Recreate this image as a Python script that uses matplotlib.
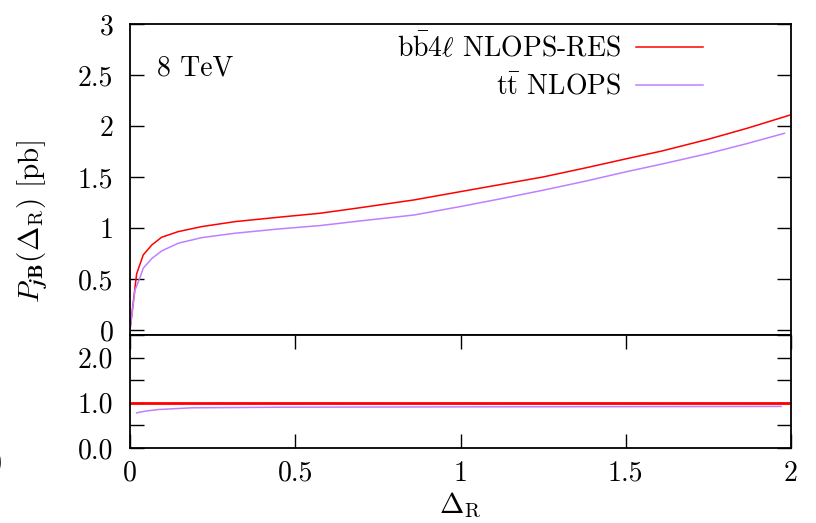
import matplotlib
matplotlib.use('Agg')
from matplotlib import pyplot as plt
from matplotlib.ticker import MultipleLocator, FixedLocator, FuncFormatter

plt.rcParams['font.family'] = 'cmr10'
plt.rcParams['mathtext.fontset'] = 'cm'
plt.rcParams['axes.formatter.use_mathtext'] = True
plt.rcParams['axes.linewidth'] = 1.3

## data
dR_bb4l = [0, 0.020, 0.040, 0.066, 0.096, 0.146, 0.217, 0.318, 0.45, 0.575, 0.70, 0.86, 1.0, 1.12, 1.25, 1.38, 1.5, 1.61, 1.75, 1.87, 2.0]
P_bb4l = [0, 0.549, 0.735, 0.833, 0.909, 0.964, 1.013, 1.062, 1.105, 1.144, 1.20, 1.275, 1.356, 1.425, 1.50, 1.59, 1.677, 1.755, 1.87, 1.98, 2.11]

dR_tt = [0, 0.015, 0.030, 0.040, 0.066, 0.096, 0.146, 0.217, 0.318, 0.45, 0.575, 0.70, 0.86, 1.0, 1.12, 1.25, 1.38, 1.5, 1.61, 1.75, 1.87, 1.98]
P_tt = [0, 0.39, 0.51, 0.605, 0.70, 0.775, 0.85, 0.905, 0.948, 0.99, 1.023, 1.07, 1.127, 1.21, 1.285, 1.37, 1.46, 1.55, 1.627, 1.73, 1.83, 1.928]

ratio_x_bb4l = [0, 2.0]
ratio_bb4l = [1.0, 1.0]
ratio_x_tt = [0.02, 0.05, 0.086, 0.186, 0.44, 1.0, 1.5, 1.97]
ratio_tt = [0.778, 0.82, 0.851, 0.889, 0.902, 0.91, 0.915, 0.92]

labels = [r'b$\bar{\rm b}$4$\ell$ NLOPS-RES', r't$\bar{\rm t}$ NLOPS']
red = '#ff0000'
purple = '#bf80ff'

fig = plt.figure(figsize=(8.16, 5.23), dpi=100)
W, H = 816., 523.
ax = fig.add_axes([130/W, 1-335/H, 661/W, 311/H])
rax = fig.add_axes([130/W, 1-448/H, 661/W, 113/H])

ax.plot(dR_bb4l, P_bb4l, color=red, lw=1.1, label=labels[0])
ax.plot(dR_tt, P_tt, color=purple, lw=1.1, label=labels[1])
ax.set_xlim(0, 2)
ax.set_ylim(-0.05, 3)
ax.yaxis.set_major_locator(MultipleLocator(0.5))
ax.yaxis.set_major_formatter(FuncFormatter(lambda v, p: '%g' % v))
ax.tick_params(axis='y', direction='in', length=10, width=1, left=True, right=True,
               labelsize=20, pad=12)
ax.tick_params(axis='x', bottom=False, top=False, labelbottom=False)

leg = ax.legend(loc='upper right', bbox_to_anchor=(703/W, 1-33/H), bbox_transform=fig.transFigure,
                frameon=False, markerfirst=False, fontsize=20, handlelength=2.4,
                handletextpad=0.55, labelspacing=0.4, borderpad=0, borderaxespad=0)
fig.text(157/W, 1-76/H, '8 TeV', fontsize=20, va='baseline')

rax.plot(ratio_x_bb4l, ratio_bb4l, color=red, lw=2.0)
rax.plot(ratio_x_tt, ratio_tt, color=purple, lw=1.1)
rax.set_xlim(0, 2)
rax.set_ylim(0, 2.5)
rax.yaxis.set_major_locator(FixedLocator([0, 1, 2]))
rax.yaxis.set_minor_locator(MultipleLocator(0.5))
rax.yaxis.set_major_formatter(FuncFormatter(lambda v, p: '%.1f' % v))
rax.xaxis.set_major_locator(MultipleLocator(0.5))
rax.xaxis.set_major_formatter(FuncFormatter(lambda v, p: '%g' % v))
rax.tick_params(which='both', direction='in', length=10, width=1, left=True, right=True,
                top=True, bottom=True, labelsize=20)
rax.tick_params(axis='y', pad=12)
rax.tick_params(axis='x', pad=9)

fig.text(33/W, 1-222/H, r'$P_{\mathbfit{j}\mathbf{B}}(\Delta_{\mathrm{R}})$ [pb]', fontsize=21,
         rotation=90, ha='center', va='center')
fig.text(460/W, 1-505/H, r'$\Delta_{\mathrm{R}}$', fontsize=21, ha='center', va='center')
# clipped label at far left edge
fig.text(-5/W, 1-464/H, '0', fontsize=20, ha='center', va='center')

plt.savefig('out.png', dpi=100)
plt.close()
